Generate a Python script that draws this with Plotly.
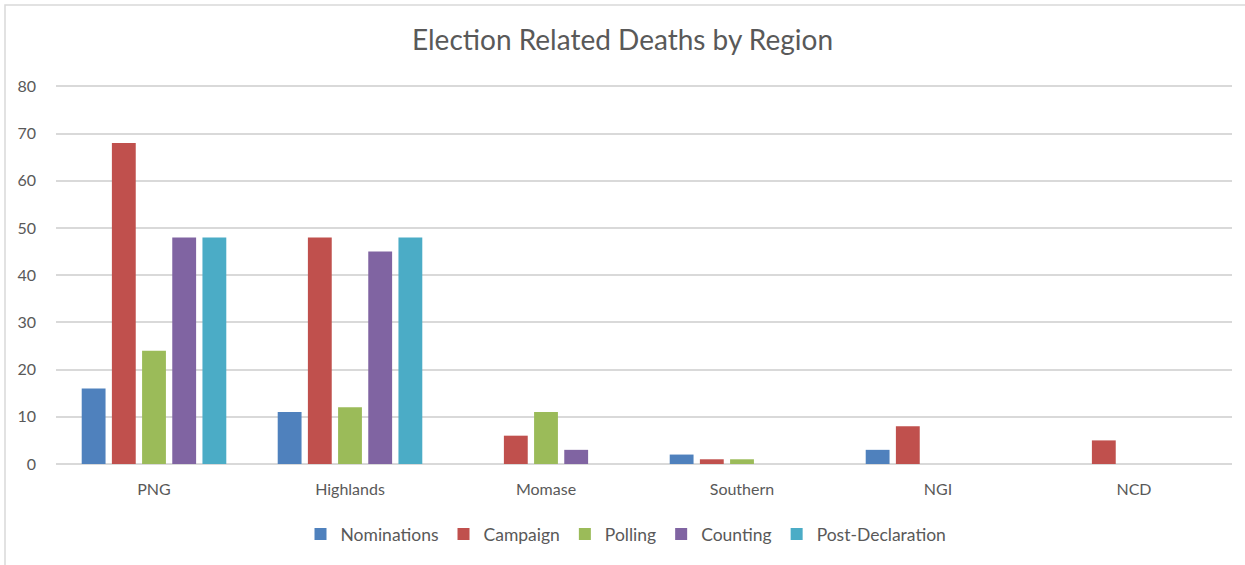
import plotly.graph_objects as go

# Election-related deaths by region and electoral phase
regions = ["PNG", "Highlands", "Momase", "Southern", "NGI", "NCD"]
nominations = [16, 11, 0, 2, 3, 0]
campaign = [68, 48, 6, 1, 8, 5]
polling = [24, 12, 11, 1, 0, 0]
counting = [48, 45, 3, 0, 0, 0]
post_declaration = [48, 48, 0, 0, 0, 0]

series = [
    ("Nominations", nominations, "#4F81BD"),
    ("Campaign", campaign, "#C0504D"),
    ("Polling", polling, "#9BBB59"),
    ("Counting", counting, "#8064A2"),
    ("Post-Declaration", post_declaration, "#4BACC6"),
]

W, H = 1245, 565
L, R, T, B = 56, 13, 84, 101
Y_TOP = 80.5

fig = go.Figure()
for name, vals, color in series:
    fig.add_trace(go.Bar(
        x=regions, y=vals, name=name,
        marker=dict(color=color, line=dict(width=0)),
    ))

font_family = "Lato, 'Open Sans', sans-serif"
text_color = "#595959"

pw = W - L - R
ph = H - T - B

fig.update_layout(
    width=W, height=H,
    margin=dict(l=L, r=R, t=T, b=B),
    paper_bgcolor="white", plot_bgcolor="white",
    barmode="group", bargap=0.23, bargroupgap=0.21,
    font=dict(family=font_family, color=text_color, size=16),
    title=dict(text="Election Related Deaths by Region", x=0.5, xanchor="center",
               y=1 - 40 / H, yanchor="middle",
               font=dict(size=28, color=text_color, family=font_family)),
    xaxis=dict(showgrid=False, showline=False, ticks="", tickfont=dict(size=16, color=text_color),
               ticklabelstandoff=14, automargin=False),
    yaxis=dict(range=[0, Y_TOP], tickvals=[0, 10, 20, 30, 40, 50, 60, 70, 80],
               showgrid=True, gridcolor="#D9D9D9", gridwidth=1.5,
               zeroline=True, zerolinecolor="#D9D9D9", zerolinewidth=1.5,
               showline=False, ticks="", tickfont=dict(size=16, color=text_color),
               ticklabelstandoff=19, automargin=False),
    legend=dict(orientation="h", x=0.4847, xanchor="center", y=-(534 - (T + ph)) / ph,
                yanchor="middle", font=dict(size=17.5, color=text_color),
                itemwidth=30, tracegroupgap=0, traceorder="normal"),
    showlegend=True,
)

# chart-area border
fig.add_shape(type="rect", xref="paper", yref="paper",
              x0=-(L - 5) / pw, x1=(W - L + 5) / pw,
              y0=-(H - T - ph + 20) / ph, y1=1 + (T - 5) / ph,
              line=dict(color="#D9D9D9", width=1.5), fillcolor="rgba(0,0,0,0)", layer="below")

fig.write_html("out.html")
